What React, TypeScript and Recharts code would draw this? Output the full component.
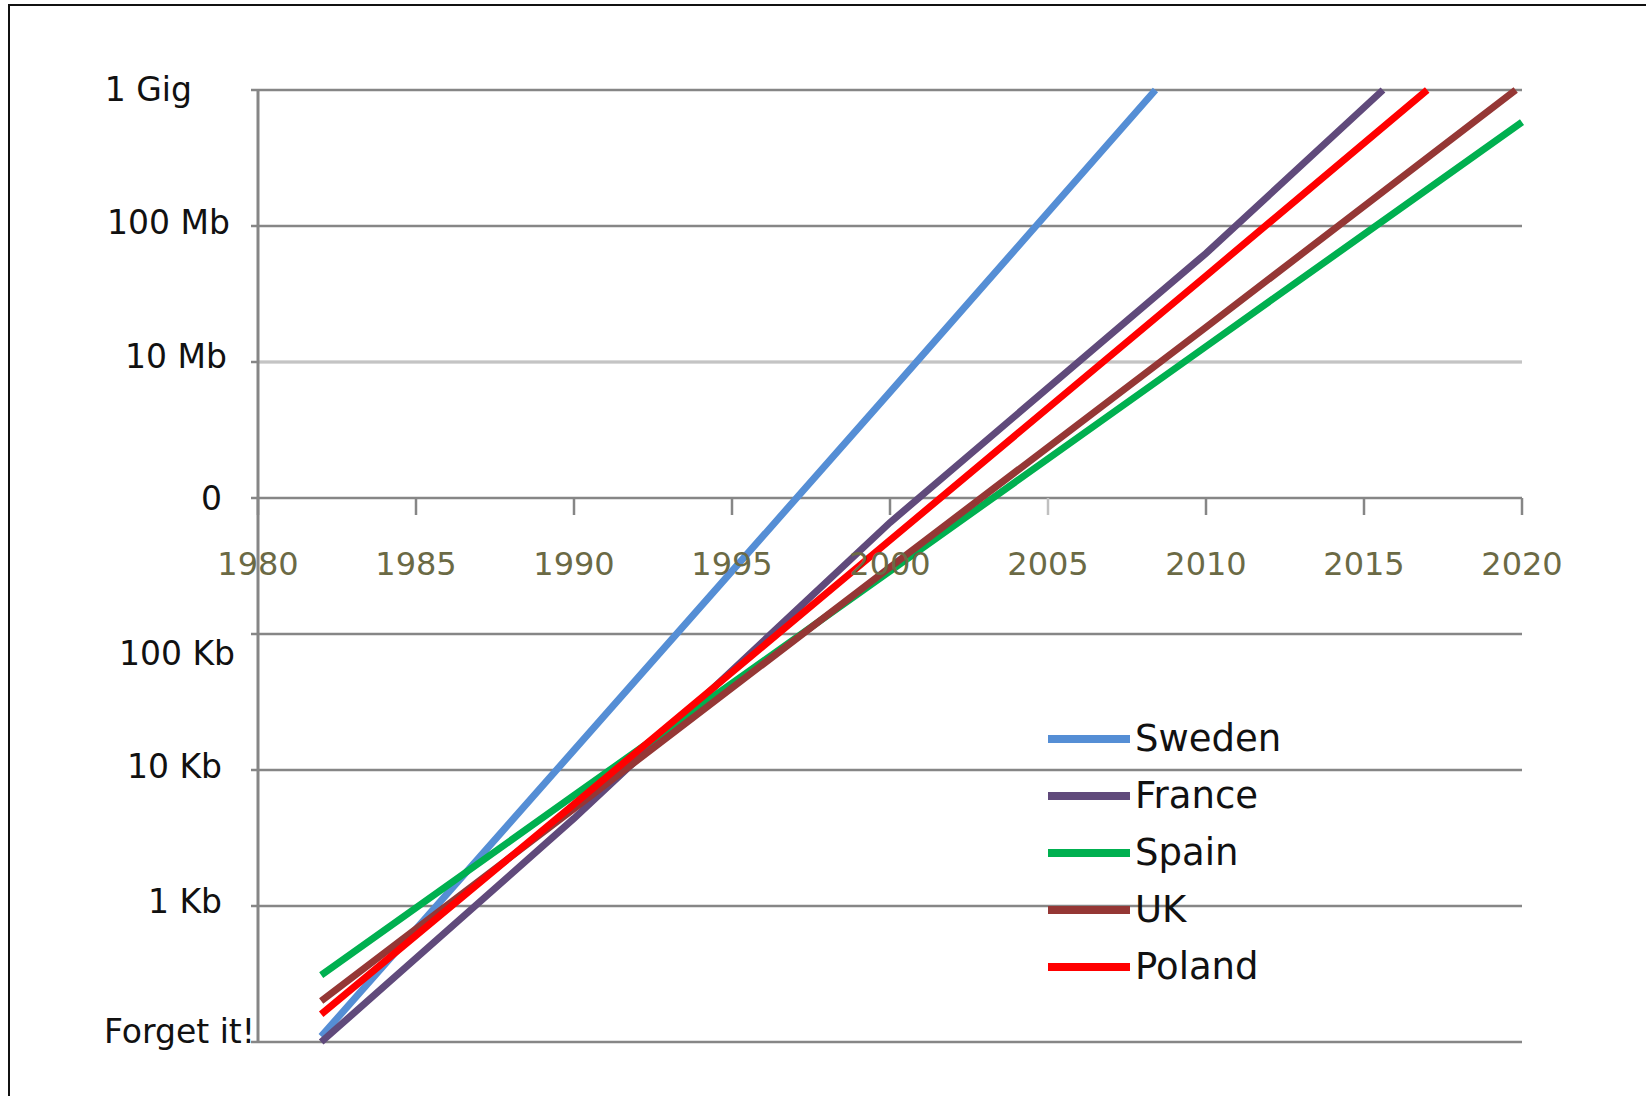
import React from 'react';

import {
  LineChart,
  Line,
  XAxis,
  YAxis,
  CartesianGrid,
  ReferenceLine,
  ReferenceDot,
  Legend,
} from 'recharts';

// values (bytes, log scale)
const sweden = [
  { year: 1982, bytes: 110 },
  { year: 1990, bytes: 14000 },
  { year: 2000, bytes: 6000000 },
  { year: 2008.4, bytes: 1000000000 },
];
const france = [
  { year: 1982, bytes: 100 },
  { year: 1990, bytes: 4400 },
  { year: 2000, bytes: 660000 },
  { year: 2010, bytes: 63000000 },
  { year: 2015.6, bytes: 1000000000 },
];
const spain = [
  { year: 1982, bytes: 310 },
  { year: 1990, bytes: 6500 },
  { year: 2000, bytes: 290000 },
  { year: 2010, bytes: 13000000 },
  { year: 2020, bytes: 580000000 },
];
const uk = [
  { year: 1982, bytes: 200 },
  { year: 1990, bytes: 5200 },
  { year: 2000, bytes: 310000 },
  { year: 2010, bytes: 18000000 },
  { year: 2019.8, bytes: 1000000000 },
];
const poland = [
  { year: 1982, bytes: 160 },
  { year: 1990, bytes: 5600 },
  { year: 2000, bytes: 490000 },
  { year: 2010, bytes: 43000000 },
  { year: 2017, bytes: 1000000000 },
];

const yearTicks = [1980, 1985, 1990, 1995, 2000, 2005, 2010, 2015, 2020];
const sizeTicks = [1e2, 1e3, 1e4, 1e5, 1e6, 1e7, 1e8, 1e9];
const sizeLabels = ['Forget it!', '1 Kb', '10 Kb', '100 Kb', '0', '10 Mb', '100 Mb', '1 Gig'];

const series = [
  { name: 'Sweden', data: sweden, color: '#558ED5' },
  { name: 'France', data: france, color: '#604A7B' },
  { name: 'Spain', data: spain, color: '#00B050' },
  { name: 'UK', data: uk, color: '#953735' },
  { name: 'Poland', data: poland, color: '#FF0000' },
];

const FONT = '"DejaVu Sans", sans-serif';
const GRID = '#868686';

// hand nudges so the labels sit like the original
const labelNudge: Record<string, [number, number]> = {
  '1 Gig': [-59, -1],
  '100 Mb': [-21, -4.5],
  '10 Mb': [-24, -6],
  '0': [-29, 0],
  '100 Kb': [-16, 19],
  '10 Kb': [-29, -4],
  '1 Kb': [-29, -5.5],
  'Forget it!': [4, -11],
};

const SizeTick = (props: any) => {
  const { x, y, payload } = props;
  const label = sizeLabels[sizeTicks.indexOf(payload.value)] ?? '';
  const [dx, dy] = labelNudge[label] ?? [0, 0];
  return (
    <text
      x={x + dx}
      y={y + dy + 12}
      textAnchor="end"
      fill="#111"
      style={{ fontFamily: FONT, fontSize: 33 }}
    >
      {label}
    </text>
  );
};

const YearMark = (props: any) => {
  const { cx, cy, year } = props;
  return (
    <g>
      <line
        x1={cx}
        y1={cy}
        x2={cx}
        y2={cy + 17}
        stroke={year === 2005 ? '#c0c0c0' : GRID}
        strokeWidth={2.5}
      />
      <text
        x={cx}
        y={cy + 77}
        textAnchor="middle"
        fill="#6b6a45"
        style={{ fontFamily: FONT, fontSize: 32 }}
      >
        {year}
      </text>
    </g>
  );
};

const LegendBox = () => (
  <div style={{ fontFamily: FONT }}>
    {series.map((s) => (
      <div key={s.name} style={{ display: 'flex', alignItems: 'center', height: 57 }}>
        <div style={{ width: 82, height: 8, background: s.color }} />
        <span style={{ marginLeft: 5, fontSize: 37, lineHeight: 1, color: '#111' }}>{s.name}</span>
      </div>
    ))}
  </div>
);

const App = () => {
  return (
    <div
      style={{
        position: 'fixed',
        left: 0,
        top: 0,
        width: 1646,
        height: 1096,
        overflow: 'hidden',
        background: '#fff',
      }}
    >
      {/* cut-off frame of the original screenshot */}
      <div
        style={{
          position: 'absolute',
          left: 8,
          top: 4,
          width: 1700,
          height: 1200,
          border: '2px solid #111',
        }}
      />
      <div style={{ position: 'absolute', left: 0, top: 0 }}>
        <LineChart
          width={1646}
          height={1096}
          margin={{ top: 90, right: 124, bottom: 54, left: 0 }}
        >
          <CartesianGrid vertical={false} stroke={GRID} strokeWidth={2.5} />
          <XAxis
            dataKey="year"
            type="number"
            domain={[1980, 2020]}
            ticks={yearTicks}
            hide
          />
          <YAxis
            type="number"
            scale="log"
            domain={[100, 1e9]}
            ticks={sizeTicks}
            interval={0}
            width={258}
            tickSize={7}
            tickMargin={0}
            axisLine={{ stroke: GRID, strokeWidth: 3 }}
            tickLine={{ stroke: GRID, strokeWidth: 2.5 }}
            tick={<SizeTick />}
          />
          <ReferenceLine y={1e7} stroke="#c4c4c4" strokeWidth={2.5} />
          {yearTicks.map((yr) => (
            <ReferenceDot
              key={yr}
              x={yr}
              y={1e6}
              r={0}
              shape={(p: any) => <YearMark {...p} year={yr} />}
            />
          ))}
          <Legend
            verticalAlign="middle"
            layout="horizontal"
            content={() => <LegendBox />}
            wrapperStyle={{ left: 1048, top: 710, width: 'auto', height: 'auto' }}
          />
          {series.map((s) => (
            <Line
              key={s.name}
              name={s.name}
              data={s.data}
              dataKey="bytes"
              type="linear"
              stroke={s.color}
              strokeWidth={7}
              dot={false}
              activeDot={false}
              isAnimationActive={false}
            />
          ))}
        </LineChart>
      </div>
    </div>
  );
};

export default App;
